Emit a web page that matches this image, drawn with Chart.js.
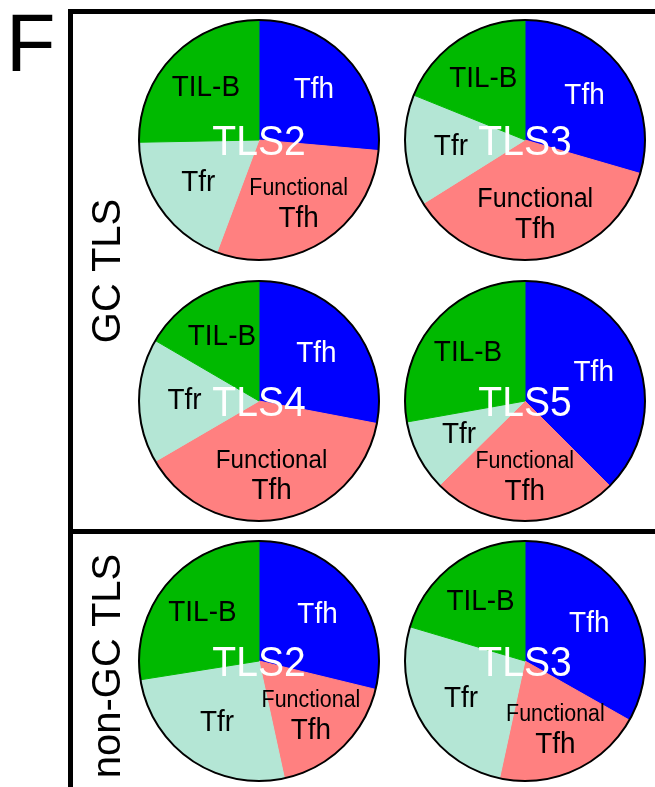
<!DOCTYPE html>
<html>
<head>
<meta charset="utf-8">
<script src="https://cdn.jsdelivr.net/npm/chart.js@4.4.1/dist/chart.umd.min.js"></script>
<style>
  html, body { margin: 0; padding: 0; background: #fff; }
  #page { position: relative; width: 655px; height: 787px; overflow: hidden; }
  #frame { position: absolute; left: 0; top: 0; }
  .pie { position: absolute; }
</style>
</head>
<body>
<div id="page">
  <canvas id="frame" width="655" height="787"></canvas>
</div>
<script>
const categories = ['Tfh', 'Functional Tfh', 'Tfr', 'TIL-B'];
const pieNames = ['TLS2', 'TLS3', 'TLS4', 'TLS5', 'TLS2', 'TLS3'];
const groupNames = ['GC TLS', 'non-GC TLS'];
// share of cells (%) in each TLS
const tfh           = [26.4, 29.5, 28.0, 37.5, 28.8, 33.2];
const functionalTfh = [29.3, 36.6, 38.6, 25.1, 17.8, 20.2];
const tfr           = [19.0, 15.0, 16.8,  9.6, 25.9, 26.2];
const tilB          = [25.3, 18.9, 16.6, 27.8, 27.5, 20.4];

const colors = ['#0000ff', '#ff8080', '#b4e6d5', '#00b900'];
const labelColors = ['#ffffff', '#000000', '#000000', '#000000'];
const font = '"Liberation Sans", Arial, sans-serif';

// layout
const centers = [[259, 140], [525, 140], [259, 401], [525, 401], [259, 661], [525, 661]];
const functionalSize = [23, 27, 26, 23, 23, 23];
const groupY = [271, 666];

const fctx = document.getElementById('frame').getContext('2d');
fctx.fillStyle = '#000';
fctx.fillRect(68, 9, 5, 778);
fctx.fillRect(68, 9, 587, 5);
fctx.fillRect(68, 529, 587, 5);
fctx.font = '81px ' + font;
fctx.fillText('F', 6, 71);
for (let g = 0; g < groupNames.length; g++) {
    fctx.save();
    fctx.translate(120, groupY[g]);
    fctx.rotate(-Math.PI / 2);
    fctx.textAlign = 'center';
    fctx.font = '40px ' + font;
    fctx.fillText(groupNames[g], 0, 0);
    fctx.restore();
}

// slightly narrow text, as in the figure
function narrowText(ctx, text, x, y, size) {
    ctx.save();
    ctx.translate(x, y);
    ctx.scale(0.93, 1);
    ctx.font = size + 'px ' + font;
    ctx.fillText(text, 0, 0);
    ctx.restore();
}

const pieLabels = {
    id: 'pieLabels',
    afterDatasetsDraw(chart, args, opts) {
        const ctx = chart.ctx;
        const arcs = chart.getDatasetMeta(0).data;
        const a0 = arcs[0];
        ctx.save();
        ctx.beginPath();
        ctx.arc(a0.x, a0.y, a0.outerRadius, 0, Math.PI * 2);
        ctx.lineWidth = 2;
        ctx.strokeStyle = '#000';
        ctx.stroke();
        ctx.textAlign = 'center';
        ctx.textBaseline = 'middle';
        arcs.forEach((arc, i) => {
            const mid = (arc.startAngle + arc.endAngle) / 2;
            const r = arc.outerRadius * 0.62;
            const x = arc.x + Math.cos(mid) * r;
            const y = arc.y + Math.sin(mid) * r;
            const label = chart.data.labels[i];
            ctx.fillStyle = labelColors[i];
            if (label === 'Functional Tfh') {
                narrowText(ctx, 'Functional', x, y - 14, opts.functionalSize);
                narrowText(ctx, 'Tfh', x, y + 16, 30);
            } else {
                narrowText(ctx, label, x, y, 30);
            }
        });
        ctx.fillStyle = '#fff';
        ctx.textBaseline = 'alphabetic';
        narrowText(ctx, opts.title, a0.x, a0.y + 15, 42);
        ctx.restore();
    }
};

for (let i = 0; i < pieNames.length; i++) {
    const cv = document.createElement('canvas');
    cv.width = 260;
    cv.height = 260;
    cv.className = 'pie';
    cv.style.left = (centers[i][0] - 130) + 'px';
    cv.style.top = (centers[i][1] - 130) + 'px';
    document.getElementById('page').appendChild(cv);
    new Chart(cv, {
        type: 'pie',
        data: {
            labels: categories,
            datasets: [{
                data: [tfh[i], functionalTfh[i], tfr[i], tilB[i]],
                backgroundColor: colors,
                borderColor: colors,
                borderWidth: 1,
                radius: 120
            }]
        },
        options: {
            responsive: false,
            animation: false,
            layout: { padding: 0 },
            plugins: {
                legend: { display: false },
                tooltip: { enabled: false },
                pieLabels: { title: pieNames[i], functionalSize: functionalSize[i] }
            }
        },
        plugins: [pieLabels]
    });
}
</script>
</body>
</html>
